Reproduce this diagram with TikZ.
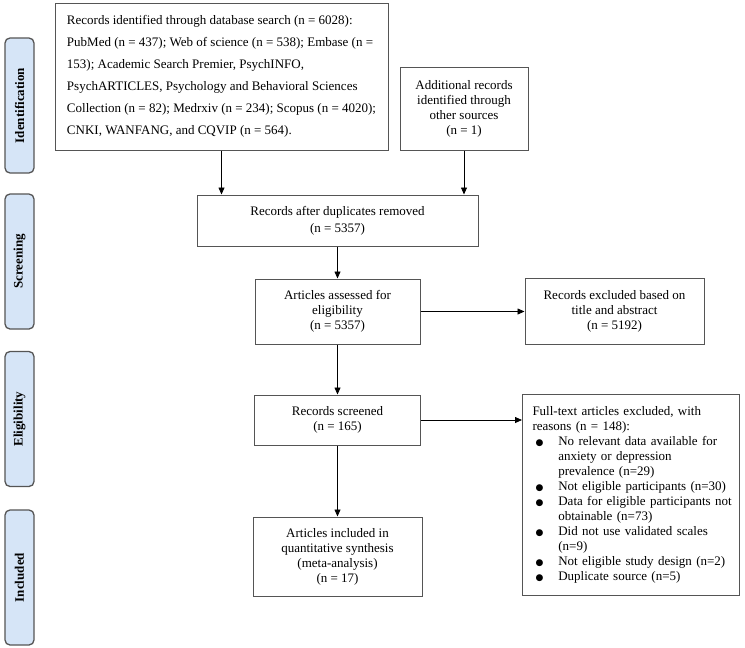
\documentclass[tikz,border=0pt]{standalone}
\usepackage{fontspec}
\setmainfont{Liberation Serif}
\newfontfamily\dotfont{DejaVu Sans}
\usetikzlibrary{positioning,arrows.meta}
\definecolor{phasefill}{RGB}{214,229,247}
\definecolor{linegray}{RGB}{85,85,85}
\newcommand{\bul}{{\dotfont\fontsize{9}{9}\selectfont ●}}

\begin{document}
\begin{tikzpicture}[x=1pt,y=1pt,->,>={Triangle[length=7pt,width=6pt]},thick,
    box/.style={rectangle,draw=linegray,line width=1pt,align=center,inner sep=0pt,font=\fontsize{13}{15}\selectfont},
    phase/.style={rectangle,rounded corners=5pt,draw=linegray,line width=1.3pt,fill=phasefill,rotate=90,minimum width=135pt,minimum height=29pt,inner sep=0pt,font=\bfseries\fontsize{13}{15}\selectfont}]

    \useasboundingbox (0,0) rectangle (745,-648);

    % phases on the left
    \foreach \lab/\yy in {Identification/105.5, Screening/261.5, Eligibility/419, Included/577.5}
        \node[phase] (\lab) at (19.5,-\yy) {\lab};

    \node[box, minimum width=333pt, minimum height=147pt, align=left, font=\fontsize{13}{22}\selectfont] (search) at (221.5,-76.5) {Records identified through database search (n = 6028):\\
        PubMed (n = 437); Web of science (n = 538); Embase (n =\\
        153); Academic Search Premier, PsychINFO,\\
        PsychARTICLES, Psychology and Behavioral Sciences\\
        Collection (n = 82); Medrxiv (n = 234); Scopus (n = 4020);\\
        CNKI, WANFANG, and CQVIP (n = 564).};
    \node[box, minimum width=128pt, minimum height=83pt] (other) at (464,-108.5) {Additional records\\identified through\\other sources\\(n = 1)};

    \node[box, minimum width=281pt, minimum height=51pt, font=\fontsize{13}{17}\selectfont] (dup) at (337.5,-220.5) {Records after duplicates removed\\(n = 5357)};
    \node[box, minimum width=165pt, minimum height=65pt] (assess) [below=32pt of dup] {Articles assessed for\\eligibility\\(n = 5357)};
    \node[box, minimum width=179pt, minimum height=66pt] (titleex) [right=104pt of assess] {Records excluded based on\\title and abstract\\(n = 5192)};

    \node[box, minimum width=166pt, minimum height=50pt] (screen) [below=50pt of assess] {Records screened\\(n = 165)};
    \node[box, minimum width=169pt, minimum height=79pt] (incl) [below=71pt of screen] {Articles included in\\quantitative synthesis\\(meta-analysis)\\(n = 17)};
    \node[box, minimum width=217pt, minimum height=201pt, text width=197pt, align=left, anchor=north west] (fulltext) at ([xshift=101pt,yshift=1pt]screen.north east) {%
        \begin{tabular}{@{\hspace{3pt}}l@{\hspace{15pt}}l@{}}
        \multicolumn{2}{@{}l@{}}{Full-text articles excluded, with}\\
        \multicolumn{2}{@{}l@{}}{reasons (n = 148):}\\
        \bul & No relevant data available for\\
             & anxiety or depression\\
             & prevalence (n=29)\\
        \bul & Not eligible participants (n=30)\\
        \bul & Data for eligible participants not\\
             & obtainable (n=73)\\
        \bul & Did not use validated scales\\
             & (n=9)\\
        \bul & Not eligible study design (n=2)\\
        \bul & Duplicate source (n=5)
        \end{tabular}};

    \draw (search.south) -- (search.south |- dup.north);
    \draw (other.south) -- (other.south |- dup.north);
    \draw (dup) -- (assess);
    \draw (assess) -- (titleex);
    \draw (assess) -- (screen);
    \draw (screen) -- (incl);
    \draw (screen.east) -- (screen.east -| fulltext.west);
\end{tikzpicture}
\end{document}
